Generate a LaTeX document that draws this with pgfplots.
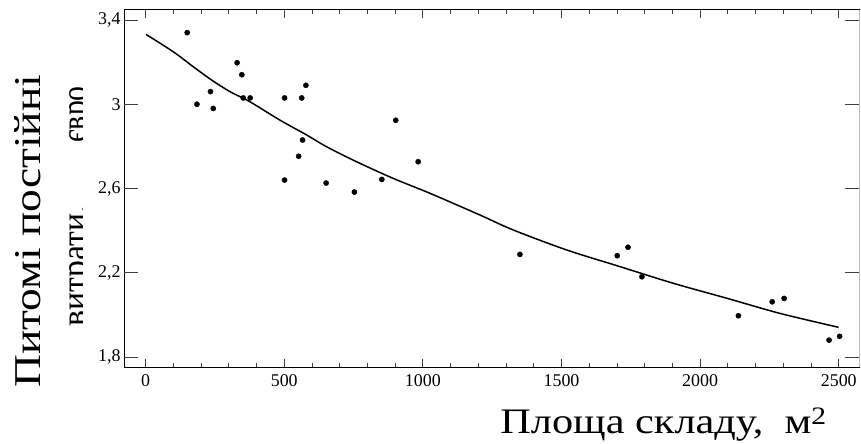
\documentclass[border=0pt]{standalone}
\usepackage{pgfplots}
\pgfplotsset{compat=1.18}
\usepackage{graphicx}
\usepackage{fontspec}
\setmainfont{Liberation Serif}
\begin{document}
\begin{tikzpicture}
\useasboundingbox (0,0) rectangle (861bp,444bp);
\begin{axis}[
  at={(124bp,77bp)}, anchor=south west,
  width=735bp, height=357bp, scale only axis,
  xmin=-78, xmax=2573, ymin=1.7525, ymax=3.4475,
  xtick={0,500,...,2500}, minor x tick num=4,
  ytick=\empty, extra y ticks={1.8,2.2,2.6,3.0,3.4},
  extra y tick style={major tick length=14bp},
  major tick length=8bp, minor tick length=4bp,
  tick align=inside,
  tick style={black!75, line width=0.9bp},
  axis line style={line width=1bp},
  ticklabel style={font=\fontsize{18}{18}\selectfont, text=black},
  xticklabel style={yshift=-4bp},
  /pgf/number format/use comma,
  /pgf/number format/1000 sep={},
  /pgf/number format/assume math mode=true,
  clip=false,
]
\addplot[only marks, mark=*, mark size=2.6bp, black] coordinates {
 (150,3.34) (185,3.00) (234,3.06) (244,2.98) (330,3.197) (347,3.14)
 (352,3.03) (377,3.03) (501,3.03) (563,3.03) (578,3.09) (566,2.83)
 (552,2.753) (501,2.64) (651,2.626) (753,2.583) (852,2.643) (902,2.924)
 (983,2.727) (1350,2.287) (1701,2.281) (1740,2.321) (1790,2.181)
 (2138,1.996) (2260,2.062) (2303,2.078) (2465,1.88) (2503,1.898)
};
\addplot[black, line width=1.5bp, smooth] coordinates {
 (1,3.332) (100,3.249) (172,3.178) (238,3.115) (304,3.060) (376,3.012)
 (484,2.925) (581,2.854) (653,2.798) (761,2.727) (893,2.648) (1026,2.577)
 (1206,2.474) (1326,2.403) (1519,2.308) (1711,2.229) (1903,2.150)
 (2096,2.079) (2288,2.007) (2499,1.941)
};
\draw[gray!50, line width=1bp] (rel axis cs:1,0) -- (rel axis cs:1,1);
\end{axis}
\node[rotate=90, anchor=base west, font=\fontsize{38}{38}\selectfont, inner sep=0pt] at (40bp,56bp) {\scalebox{1.2}[1]{Питомі постійні}};
\begin{scope}
\clip (0,0) rectangle (82bp,444bp);
\node[rotate=90, anchor=base west, font=\fontsize{36}{36}\selectfont, inner sep=0pt] at (86bp,117bp) {\scalebox{0.94}[1]{витрати,}};
\node[rotate=90, anchor=base west, font=\fontsize{36}{36}\selectfont, inner sep=0pt] at (86bp,301bp) {\scalebox{0.83}[1]{євро}};
\end{scope}
\node[anchor=base east, font=\fontsize{36}{36}\selectfont, inner sep=0pt] at (827bp,11bp) {\scalebox{1.18}[1]{Площа складу,\ \ м\textsuperscript{2}}};
\end{tikzpicture}
\end{document}
